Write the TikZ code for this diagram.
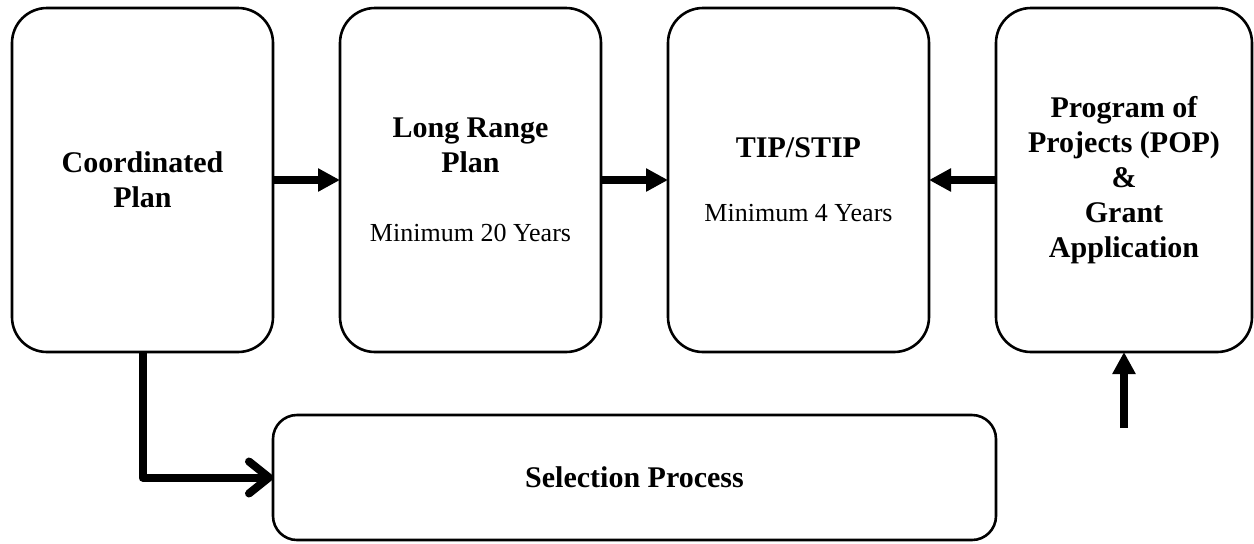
\documentclass[tikz,border=0pt]{standalone}
\usepackage{fontspec}
\setmainfont{Liberation Serif}
\usetikzlibrary{positioning,arrows.meta}

\begin{document}
\begin{tikzpicture}[
    node distance=33.5pt, font=\fontsize{15}{17.5}\selectfont\bfseries,
    plan/.style={draw, line width=1.3pt, rounded corners=17.5pt, minimum width=130.5pt, minimum height=172pt, align=center, outer sep=0, inner sep=2pt},
    flow/.style={line width=4pt, -{Triangle[length=11pt, width=11pt]}},
    route/.style={line width=4pt, line join=round, -{Straight Barb[length=10pt, width=16pt, round]}},
  ]
  \useasboundingbox (0, 0) rectangle (627pt, -271.5pt);

  \node[plan, anchor=north west] (coord) at (6pt, -4pt) {Coordinated\\Plan};
  \node[plan, right=of coord] (lrp) {Long Range\\Plan\\[17pt]\mdseries\fontsize{13}{17.5}\selectfont Minimum 20 Years};
  \node[plan, right=of lrp] (tip) {TIP/STIP\\[14.5pt]\mdseries\fontsize{13}{17.5}\selectfont Minimum 4 Years};
  \node[plan, right=of tip, minimum width=128pt] (pop) {Program of\\Projects (POP)\\\&\\Grant\\Application};

  \node[plan, rounded corners=12pt, minimum width=361.5pt, minimum height=62.5pt, anchor=north west] (sel) at ([yshift=-31.5pt]coord.south east) {Selection Process};
  \coordinate[below=38pt of pop] (feed);

  \draw[flow] (coord) -- (lrp);
  \draw[flow] (lrp) -- (tip);
  \draw[flow] (pop) -- (tip);
  \draw[flow] (feed) -- (pop);
  \draw[route] (coord.south) |- (sel);

\end{tikzpicture}
\end{document}
